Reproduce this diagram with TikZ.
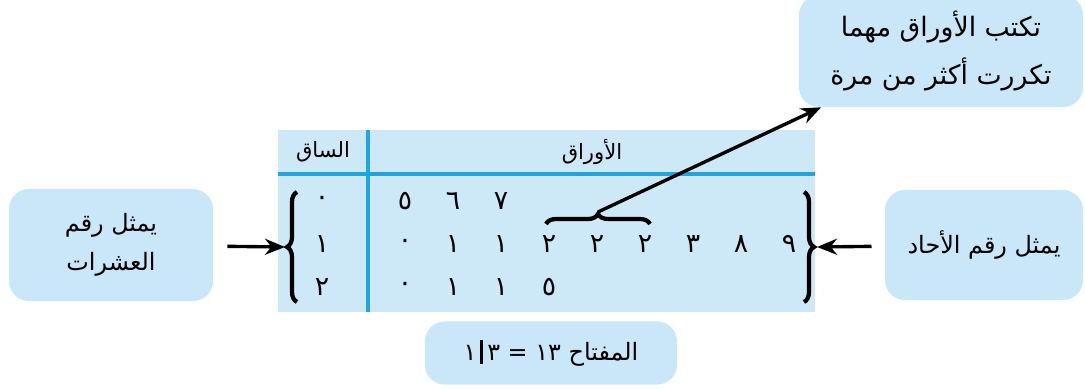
\documentclass[tikz,border=0pt]{standalone}
\usepackage{fontspec}
\newfontfamily\arabicfont[Script=Arabic]{DejaVu Sans}
\TeXXeTstate=1
\usetikzlibrary{arrows.meta,positioning,decorations.pathreplacing}
\definecolor{boxblue}{HTML}{C9E7F8}
\definecolor{tableblue}{HTML}{CDE8F7}
\definecolor{lineblue}{HTML}{1FA5E0}

\begin{document}
\begin{tikzpicture}[
  x=0.025cm, y=-0.025cm,
  bubble/.style={fill=boxblue, rounded corners=5mm, align=center, inner sep=0pt,
    font=\arabicfont\fontsize{17}{28}\selectfont},
  head/.style={font=\arabicfont\fontsize{15}{15}\selectfont},
  digit/.style={font=\arabicfont\fontsize{19}{19}\selectfont},
  arrow/.style={-{Stealth[length=5mm,width=4mm]}, line width=2.4pt},
  bigbrace/.style={decorate, decoration={brace, amplitude=2.5mm}, line width=3pt},
  smallbrace/.style={decorate, decoration={brace, amplitude=2.5mm}, line width=3pt}
]
\useasboundingbox (0,0) rectangle (1085,388);

% stem-and-leaf table
\fill[tableblue] (278,130) rectangle (815,312);
\draw[lineblue, line width=2.4pt] (278,174) -- (815,174);
\draw[lineblue, line width=2.4pt] (368,130) -- (368,312);
\node[head] (stemhead) at (323,152) {الساق};
\node[head] (leafhead) at (592,152) {الأوراق};

\node[digit] (s0) at (322,201) {٠};
\node[digit] (s1) at (322,244) {١};
\node[digit] (s2) at (322,287) {٢};
\foreach \d [count=\i from 0] in {٥,٦,٧}
  \node[digit] (a\i) at (405+48*\i,201) {\d};
\foreach \d [count=\i from 0] in {٠,١,١,٢,٢,٢,٣,٨,٩}
  \node[digit] (b\i) at (405+48*\i,244) {\d};
\foreach \d [count=\i from 0] in {٠,١,١,٥}
  \node[digit] (c\i) at (405+48*\i,287) {\d};

% braces
\draw[bigbrace] (297,302) -- (297,192);
\draw[bigbrace] (804,192) -- (804,302);
\draw[smallbrace] (546,224) -- (650,224);
\coordinate (lbrace) at (285,247);
\coordinate (rbrace) at (817,247);
\coordinate (sbrace) at (598,212);

% callouts
\node[bubble, minimum width=5.1cm, minimum height=2.8cm] (tens) at (111,245)
  {\beginR يمثل رقم\endR\\\beginR العشرات\endR};
\node[bubble, minimum width=4.95cm, minimum height=2.75cm] (ones) at (984,245)
  {\beginR يمثل رقم الأحاد\endR};
\node[bubble, minimum width=7.1cm, minimum height=2.8cm,
  font=\arabicfont\fontsize{19}{34}\selectfont] (repeat) at (941,51)
  {\beginR تكتب الأوراق مهما\endR\\\beginR تكررت أكثر من مرة\endR};
\node[bubble, minimum width=6.3cm, minimum height=1.58cm] (key) at (551,353)
  {\beginR المفتاح ١٣ = ٣\,\rule[-0.15em]{2pt}{1em}\,١\endR};

\draw[arrow, shorten <=3.5mm] (tens) -- (lbrace);
\draw[arrow, shorten <=3.3mm] (ones) -- (rbrace);
\draw[arrow] (sbrace) -- (repeat);

\end{tikzpicture}
\end{document}
